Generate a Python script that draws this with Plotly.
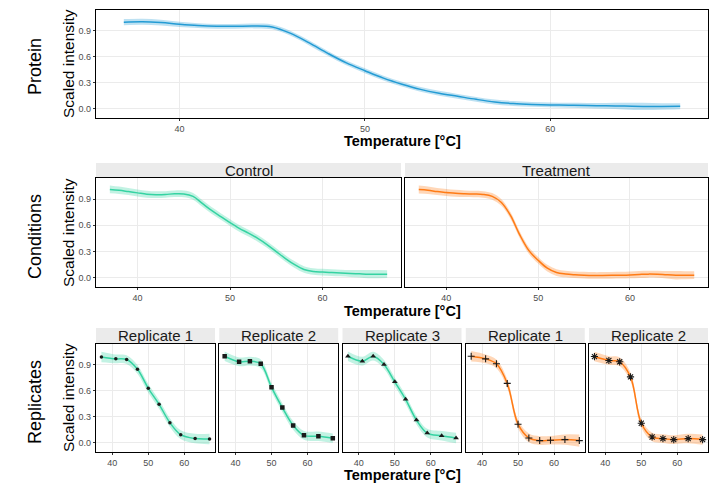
import plotly.graph_objects as go

# ---------------- data ----------------
grid_temps = list(range(37, 68))
protein_fit = [1.0, 1.005, 0.995, 0.975, 0.96, 0.952, 0.952, 0.956, 0.945, 0.87, 0.76, 0.64, 0.53, 0.44,
               0.355, 0.285, 0.225, 0.18, 0.145, 0.11, 0.08, 0.062, 0.052, 0.046, 0.042, 0.038, 0.035, 0.032,
               0.028, 0.028, 0.03]
protein_ci = [0.035, 0.035, 0.033, 0.03, 0.028, 0.028, 0.028, 0.028, 0.028, 0.028, 0.028, 0.028, 0.028, 0.028,
              0.028, 0.028, 0.028, 0.028, 0.028, 0.028, 0.028, 0.028, 0.028, 0.028, 0.028, 0.03, 0.033, 0.038,
              0.042, 0.038, 0.035]
control_fit = [1.01, 1.0, 0.985, 0.97, 0.955, 0.95, 0.952, 0.96, 0.958, 0.93, 0.85, 0.77, 0.70, 0.63,
               0.565, 0.51, 0.45, 0.38, 0.30, 0.22, 0.15, 0.095, 0.072, 0.065, 0.06, 0.055, 0.05, 0.046,
               0.042, 0.042, 0.042]
control_ci = [0.045, 0.042, 0.04, 0.04, 0.04, 0.038, 0.038, 0.038, 0.038, 0.038, 0.038, 0.038, 0.038, 0.038,
              0.038, 0.038, 0.038, 0.038, 0.038, 0.038, 0.038, 0.038, 0.038, 0.038, 0.038, 0.038, 0.04, 0.043,
              0.048, 0.046, 0.045]
treatment_fit = [1.008, 1.0, 0.985, 0.975, 0.965, 0.96, 0.957, 0.952, 0.93, 0.86, 0.71, 0.49, 0.31, 0.20,
                 0.11, 0.06, 0.043, 0.035, 0.03, 0.027, 0.027, 0.028, 0.03, 0.033, 0.038, 0.042, 0.04, 0.034,
                 0.03, 0.03, 0.03]
treatment_ci = [0.045, 0.042, 0.04, 0.04, 0.04, 0.038, 0.038, 0.038, 0.038, 0.038, 0.038, 0.038, 0.038, 0.038,
                0.038, 0.038, 0.038, 0.038, 0.038, 0.038, 0.038, 0.038, 0.038, 0.038, 0.04, 0.04, 0.04, 0.043,
                0.048, 0.046, 0.045]

rep_temps = [37, 41, 44, 47, 50, 53, 56, 59, 63, 67]
ctrl_rep1 = [0.986, 0.964, 0.956, 0.844, 0.626, 0.442, 0.232, 0.094, 0.049, 0.045]
ctrl_rep2 = [0.994, 0.93, 0.937, 0.907, 0.637, 0.405, 0.20, 0.086, 0.075, 0.052]
ctrl_rep3 = [0.994, 0.937, 0.994, 0.90, 0.70, 0.499, 0.262, 0.112, 0.082, 0.056]
trt_rep1 = [0.994, 0.964, 0.907, 0.682, 0.214, 0.056, 0.026, 0.03, 0.037, 0.026]
trt_rep2 = [0.99, 0.945, 0.93, 0.757, 0.225, 0.067, 0.049, 0.037, 0.049, 0.037]
ctrl_rep1_ci = [0.06, 0.05, 0.05, 0.05, 0.05, 0.05, 0.05, 0.05, 0.055, 0.06]
ctrl_rep2_ci = [0.055, 0.05, 0.05, 0.05, 0.05, 0.05, 0.05, 0.05, 0.055, 0.055]
ctrl_rep3_ci = [0.055, 0.05, 0.05, 0.05, 0.05, 0.05, 0.05, 0.05, 0.055, 0.06]
trt_rep1_ci = [0.06, 0.05, 0.05, 0.05, 0.05, 0.05, 0.05, 0.05, 0.06, 0.07]
trt_rep2_ci = [0.055, 0.05, 0.05, 0.05, 0.05, 0.05, 0.05, 0.05, 0.055, 0.06]

x_ticks = [40, 50, 60]
y_ticks = [0.0, 0.3, 0.6, 0.9]
y_tick_text = ["0.0", "0.3", "0.6", "0.9"]
strip_mid = ["Control", "Treatment"]
strip_bot = ["Replicate 1", "Replicate 2", "Replicate 3", "Replicate 1", "Replicate 2"]
row_labels = ["Protein", "Conditions", "Replicates"]

BLUE = "#239BD4"
GREEN = "#35D3A2"
ORANGE = "#FF7B15"


def rgba(hexc, a):
    h = hexc.lstrip("#")
    return "rgba(%d,%d,%d,%s)" % (int(h[0:2], 16), int(h[2:4], 16), int(h[4:6], 16), a)


W, H = 720, 484
FONT = "Liberation Sans, Arial, sans-serif"

# panel layout in pixels: (x0, x1, y0, y1, show_y)
panels = [(96, 708, 10, 118, True),
          (96, 401, 178, 287, True), (405, 708, 178, 287, False)]
bx0, bw, bg = 96, 118.96, 4.3
for i in range(5):
    x0 = bx0 + i * (bw + bg)
    panels.append((x0, x0 + bw, 343.5, 452, i == 0))

fig = go.Figure()
layout = {}
for i, (x0, x1, y0, y1, showy) in enumerate(panels):
    k = "" if i == 0 else str(i + 1)
    layout["xaxis" + k] = dict(
        domain=[x0 / W, x1 / W], anchor="y" + k, range=[35.5, 68.5],
        tickvals=x_ticks, showgrid=True, gridcolor="#EBEBEB", gridwidth=1,
        showline=True, linecolor="black", linewidth=1.3, mirror=True,
        ticks="outside", ticklen=2, tickcolor="#333333", tickwidth=1,
        tickfont=dict(size=9, color="#4D4D4D", family=FONT), zeroline=False)
    layout["yaxis" + k] = dict(
        domain=[1 - y1 / H, 1 - y0 / H], anchor="x" + k, range=[-0.105, 1.14],
        tickvals=y_ticks, ticktext=y_tick_text, showgrid=True, gridcolor="#EBEBEB", gridwidth=1,
        showline=True, linecolor="black", linewidth=1.3, mirror=True,
        ticks="outside" if showy else "", ticklen=2, tickcolor="#333333",
        showticklabels=showy,
        tickfont=dict(size=9, color="#4D4D4D", family=FONT), zeroline=False)


def add_ribbon(idx, xs, fit, ci, color, shape):
    k = "" if idx == 0 else str(idx + 1)
    up = [f + c for f, c in zip(fit, ci)]
    lo = [f - c for f, c in zip(fit, ci)]
    fig.add_trace(go.Scatter(x=xs, y=up, mode="lines", line=dict(width=0, shape=shape, color=color),
                             xaxis="x" + k, yaxis="y" + k, showlegend=False, hoverinfo="skip"))
    fig.add_trace(go.Scatter(x=xs, y=lo, mode="lines", line=dict(width=0, shape=shape, color=color),
                             fill="tonexty", fillcolor=rgba(color, 0.3),
                             xaxis="x" + k, yaxis="y" + k, showlegend=False, hoverinfo="skip"))
    fig.add_trace(go.Scatter(x=xs, y=fit, mode="lines", line=dict(width=1.5, shape=shape, color=color),
                             xaxis="x" + k, yaxis="y" + k, showlegend=False))


add_ribbon(0, grid_temps, protein_fit, protein_ci, BLUE, "spline")
add_ribbon(1, grid_temps, control_fit, control_ci, GREEN, "spline")
add_ribbon(2, grid_temps, treatment_fit, treatment_ci, ORANGE, "spline")

reps = [(ctrl_rep1, ctrl_rep1_ci, GREEN, "circle", 3.5, 0),
        (ctrl_rep2, ctrl_rep2_ci, GREEN, "square", 4.5, 0),
        (ctrl_rep3, ctrl_rep3_ci, GREEN, "triangle-up", 5, 0),
        (trt_rep1, trt_rep1_ci, ORANGE, "cross-thin-open", 5, 1.1),
        (trt_rep2, trt_rep2_ci, ORANGE, "asterisk-open", 6, 1.1)]
for j, (vals, ci, col, sym, sz, lw) in enumerate(reps):
    idx = 3 + j
    k = str(idx + 1)
    add_ribbon(idx, rep_temps, vals, ci, col, "spline")
    fig.add_trace(go.Scatter(x=rep_temps, y=vals, mode="markers",
                             marker=dict(symbol=sym, size=sz, color="#1A1A1A",
                                         line=dict(width=lw, color="#1A1A1A")),
                             xaxis="x" + k, yaxis="y" + k, showlegend=False))

shapes = []
annotations = []


def ann(text, px, py, size, bold=False, angle=0, color="#000000"):
    annotations.append(dict(text=("<b>%s</b>" % text) if bold else text, x=px / W, y=1 - py / H,
                            xref="paper", yref="paper", showarrow=False, xanchor="center", yanchor="middle",
                            textangle=angle, font=dict(size=size, color=color, family=FONT)))


# strips
strip_panels = [(panels[1], strip_mid[0], 163, 178), (panels[2], strip_mid[1], 163, 178)]
for i in range(5):
    strip_panels.append((panels[3 + i], strip_bot[i], 328, 343.5))
for (x0, x1, _, _, _), label, sy0, sy1 in strip_panels:
    shapes.append(dict(type="rect", xref="paper", yref="paper", x0=x0 / W, x1=x1 / W,
                       y0=1 - sy1 / H, y1=1 - sy0 / H, fillcolor="#EBEBEB", line=dict(width=0),
                       layer="below"))
    ann(label, (x0 + x1) / 2, (sy0 + sy1) / 2 - 0.5, 15, color="#1A1A1A")

# axis titles
for py in [141, 311, 474.5]:
    ann("Temperature [°C]", 402, py, 14.5, bold=True)
for py in [64, 233, 398]:
    ann("Scaled intensity", 68, py, 15.5, angle=-90)
for lbl, py in zip(row_labels, [67, 237, 402]):
    ann(lbl, 35, py, 18, angle=-90)

layout.update(dict(width=W, height=H, margin=dict(l=0, r=0, t=0, b=0),
                   paper_bgcolor="white", plot_bgcolor="white",
                   shapes=shapes, annotations=annotations, showlegend=False,
                   font=dict(family=FONT)))
fig.update_layout(**layout)
fig.write_html("out.html")
